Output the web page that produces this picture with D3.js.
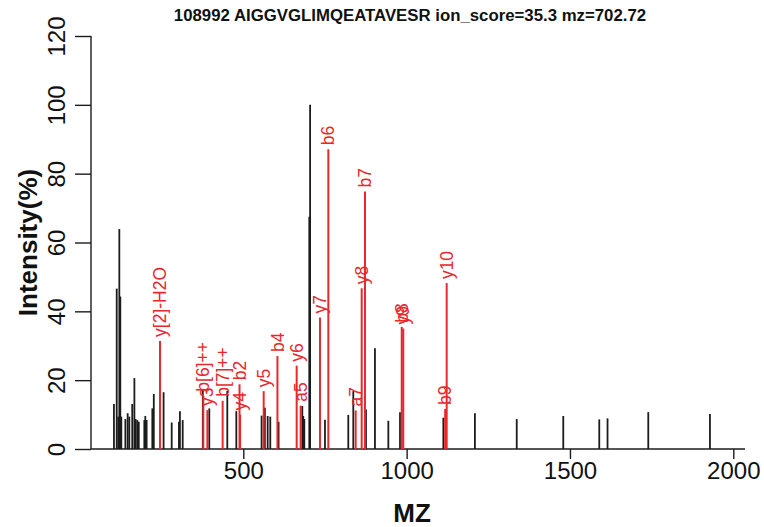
<!DOCTYPE html>
<html>
<head>
<meta charset="utf-8">
<script src="https://cdn.jsdelivr.net/npm/d3@7"></script>
<style>
  html, body { margin: 0; padding: 0; background: #ffffff; }
  svg { display: block; font-family: "Liberation Sans", Arial, Helvetica, sans-serif; }
</style>
</head>
<body>
<svg id="chart" width="764" height="527"></svg>
<script>
// ---------- data ----------
const titleText = "108992 AIGGVGLIMQEATAVESR ion_score=35.3 mz=702.72";
const xLabel = "MZ";
const yLabel = "Intensity(%)";
const xTicks = [500, 1000, 1500, 2000];
const yTicks = [0, 20, 40, 60, 80, 100, 120];

// unmatched peaks
const peakMz = [104, 112.5, 117.4, 120.5, 123.5, 126.6, 139, 146, 151, 160, 166.6, 170.7, 175.7, 180,
  197, 200, 204, 221.5, 226, 256, 280.8, 303, 306, 314.5, 376, 395.9, 451, 478.6, 556, 566, 574.6,
  582.6, 608, 680.6, 683.6, 686.7, 702, 704.5, 750, 821.4, 836.7, 875.6, 903, 944, 979.7, 1112.4,
  1209, 1337, 1479.5, 1589.7, 1615, 1739.7, 1928.5];
const peakInt = [13.1, 46.6, 9.4, 63.9, 44.3, 9.4, 8.7, 10.4, 9.4, 13.1, 20.6, 8.7, 8.4, 7.9,
  8.4, 9.6, 8.4, 11.8, 16.0, 16.5, 7.7, 7.9, 11.0, 8.4, 17.2, 11.8, 16.9, 11.0, 9.7, 12.0, 9.6,
  9.4, 7.9, 12.5, 9.6, 8.7, 67.5, 100, 8.5, 9.9, 16.8, 11.5, 29.3, 8.2, 10.7, 9.1,
  10.4, 8.7, 9.6, 8.6, 8.9, 10.7, 10.2];

// matched fragment ions
const ionLabel = ["y[2]-H2O", "b[6]++", "y3", "b[7]++", "b2", "y4", "y5", "b4", "y6", "a5", "y7", "b6",
  "a7", "y8", "b7", "b8", "y9", "b9", "y10"];
const ionMz = [245, 377.6, 390, 436.8, 488.4, 490.2, 562.4, 604.5, 663.4, 675.6, 734.8, 760.3,
  844, 862.4, 872.5, 985, 989.7, 1118, 1122.6];
const ionInt = [31.4, 15.5, 11.3, 14.0, 18.8, 10.0, 16.8, 27.0, 24.2, 12.6, 38.2, 87.1,
  11.2, 46.7, 74.8, 35.5, 35.0, 11.6, 48.2];

// ---------- drawing ----------
const svg = d3.select("#chart");
const black = "#1c1c1c", red = "#e8282c";

const x = d3.scaleLinear().domain([500, 2000]).range([243.3, 733.3]);
const y = d3.scaleLinear().domain([0, 120]).range([449, 36]);
const xLeft = 91, xRight = 745;

// title
svg.append("text")
  .attr("x", 410).attr("y", 21)
  .attr("text-anchor", "middle")
  .attr("font-weight", "bold").attr("font-size", 16.8)
  .attr("fill", "#111")
  .text(titleText);

// baseline
svg.append("line")
  .attr("x1", xLeft).attr("x2", xRight)
  .attr("y1", y(0)).attr("y2", y(0))
  .attr("stroke", black).attr("stroke-width", 1.4);

// y axis
const yAxis = d3.axisLeft(y).tickValues(yTicks).tickSize(16).tickPadding(9).tickFormat(d3.format("d"));
const gy = svg.append("g").attr("transform", `translate(${xLeft},0)`).call(yAxis);
gy.select(".domain").attr("stroke", black).attr("stroke-width", 1.4).attr("d", `M0,${y(0)}V${y(120)}`);
gy.selectAll(".tick line").attr("stroke", black).attr("stroke-width", 1.4);
gy.selectAll(".tick text")
  .attr("font-size", 24).attr("fill", "#111")
  .attr("font-family", "Liberation Sans, Arial, sans-serif")
  .attr("text-anchor", "middle")
  .attr("x", null).attr("dy", null)
  .attr("transform", "translate(-26,0) rotate(-90)");

// x axis
const xAxis = d3.axisBottom(x).tickValues(xTicks).tickSize(10).tickPadding(6).tickFormat(d3.format("d"));
const gx = svg.append("g").attr("transform", `translate(0,${y(0)})`).call(xAxis);
gx.select(".domain").remove();
gx.selectAll(".tick line").attr("stroke", black).attr("stroke-width", 1.4);
gx.selectAll(".tick text")
  .attr("font-size", 24).attr("fill", "#111")
  .attr("font-family", "Liberation Sans, Arial, sans-serif")
  .attr("y", 30).attr("dy", null);

// axis titles
svg.append("text")
  .attr("x", 412).attr("y", 522)
  .attr("text-anchor", "middle")
  .attr("font-weight", "bold").attr("font-size", 26).attr("fill", "#111")
  .text(xLabel);
svg.append("text")
  .attr("transform", `translate(37,${(y(0) + y(120)) / 2}) rotate(-90)`)
  .attr("text-anchor", "middle")
  .attr("font-weight", "bold").attr("font-size", 26).attr("fill", "#111")
  .text(yLabel);

// unmatched peaks
const peaks = peakMz.map((m, i) => ({ mz: m, v: peakInt[i] }));
svg.append("g").selectAll("line").data(peaks).join("line")
  .attr("x1", d => x(d.mz)).attr("x2", d => x(d.mz))
  .attr("y1", y(0)).attr("y2", d => y(d.v))
  .attr("stroke", black).attr("stroke-width", 1.8);

// matched ions
const ions = ionMz.map((m, i) => ({ mz: m, v: ionInt[i], label: ionLabel[i] }));
svg.append("g").selectAll("line").data(ions).join("line")
  .attr("x1", d => x(d.mz)).attr("x2", d => x(d.mz))
  .attr("y1", y(0)).attr("y2", d => y(d.v))
  .attr("stroke", red).attr("stroke-width", 2);

svg.append("g").selectAll("text").data(ions).join("text")
  .attr("transform", d => `translate(${x(d.mz)},${y(d.v) - 4}) rotate(-90)`)
  .attr("dy", "0.35em")
  .attr("text-anchor", "start")
  .attr("font-size", 17.5).attr("fill", red)
  .text(d => d.label);
</script>
</body>
</html>
